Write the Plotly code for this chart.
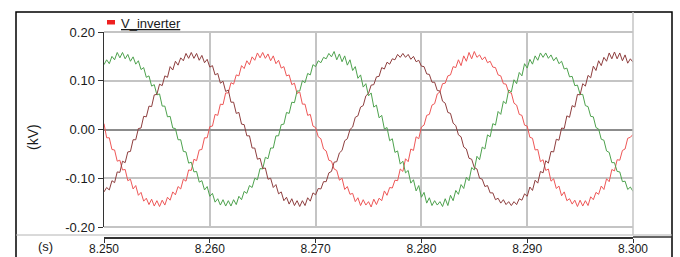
import plotly.graph_objects as go

# ---- data ----
t_start = 8.250          # s, first sample
t_step = 0.00025         # s, sample spacing

# phase voltages in volts (plotted in kV)
red_volts = [
    12, -17, -17, -41, -42, -65, -63, -83, -82, -105,
    -102, -122, -115, -135, -129, -147, -141, -154, -143, -157,
    -146, -158, -145, -155, -139, -145, -128, -134, -117, -122,
    -102, -106, -83, -84, -61, -64, -42, -41, -17, -17,
    6, 7, 31, 29, 52, 51, 75, 75, 96, 93,
    112, 110, 131, 125, 141, 133, 149, 142, 157, 147,
    158, 146, 155, 141, 151, 135, 142, 126, 129, 110,
    112, 92, 95, 74, 77, 52, 52, 29, 31, 7,
    4, -15, -19, -40, -44, -63, -65, -81, -84, -104,
    -100, -123, -117, -133, -131, -148, -140, -156, -144, -155,
    -148, -159, -143, -154, -141, -146, -126, -135, -119, -120,
    -104, -105, -81, -86, -60, -66, -40, -43, -15, -19,
    5, 9, 29, 31, 50, 53, 73, 77, 94, 95,
    110, 112, 129, 127, 143, 131, 151, 140, 158, 145,
    160, 148, 153, 143, 149, 137, 140, 128, 127, 112,
    110, 94, 93, 76, 75, 54, 50, 31, 29, 9,
    7, -16, -18, -42, -41, -66, -62, -84, -81, -106,
    -101, -121, -116, -136, -128, -146, -142, -153, -145, -158,
    -145, -157, -146, -156, -138, -144, -129, -133, -116, -123,
    -101, -107, -82, -85, -62, -63, -43, -40, -18, -16,
    -10,
]

green_volts = [
    133, 143, 135, 150, 143, 158, 147, 158, 145, 154,
    140, 149, 134, 141, 123, 127, 107, 110, 89, 92,
    71, 73, 48, 48, 26, 27, 3, 2, -21, -21,
    -45, -46, -69, -67, -87, -86, -108, -105, -124, -117,
    -137, -131, -149, -142, -155, -144, -157, -146, -157, -144,
    -154, -137, -144, -127, -131, -115, -119, -100, -103, -80,
    -81, -57, -60, -38, -38, -13, -13, 10, 11, 35,
    33, 56, 55, 79, 79, 100, 96, 115, 112, 133,
    129, 141, 137, 148, 145, 156, 149, 160, 143, 155,
    139, 151, 132, 143, 121, 129, 105, 112, 87, 94,
    69, 75, 46, 50, 24, 29, 1, 4, -23, -19,
    -47, -44, -71, -65, -89, -84, -110, -103, -126, -115,
    -139, -129, -151, -140, -156, -146, -155, -148, -158, -142,
    -156, -135, -146, -125, -133, -113, -121, -98, -105, -78,
    -83, -55, -62, -36, -40, -11, -15, 12, 9, 37,
    31, 58, 53, 81, 77, 102, 94, 117, 110, 135,
    126, 144, 134, 151, 142, 157, 148, 157, 146, 153,
    141, 148, 135, 140, 124, 126, 108, 109, 90, 91,
    72, 72, 49, 47, 27, 26, 4, 1, -20, -22,
    -44, -47, -68, -68, -86, -87, -107, -106, -123, -118,
    -127,
]

brown_volts = [
    -128, -119, -124, -105, -109, -87, -88, -65, -68, -46,
    -45, -21, -21, 2, 3, 27, 26, 48, 47, 71,
    72, 93, 90, 110, 107, 129, 122, 140, 132, 147,
    141, 156, 146, 158, 146, 156, 142, 152, 137, 144,
    128, 131, 112, 115, 95, 99, 78, 81, 56, 56,
    33, 35, 11, 10, -13, -13, -38, -38, -61, -59,
    -80, -79, -102, -100, -119, -113, -132, -128, -146, -139,
    -153, -142, -156, -146, -158, -146, -156, -140, -147, -130,
    -134, -121, -122, -107, -107, -89, -86, -67, -66, -48,
    -43, -23, -19, 0, 5, 25, 28, 46, 49, 69,
    74, 91, 92, 108, 109, 127, 124, 138, 134, 145,
    143, 154, 148, 156, 148, 154, 144, 150, 139, 142,
    130, 129, 114, 113, 97, 97, 80, 79, 58, 54,
    35, 33, 13, 8, -11, -15, -36, -40, -59, -61,
    -78, -81, -100, -102, -117, -115, -130, -130, -144, -141,
    -151, -144, -154, -148, -156, -148, -154, -142, -145, -132,
    -137, -118, -125, -104, -110, -86, -89, -64, -69, -45,
    -46, -20, -22, 3, 2, 28, 25, 49, 46, 72,
    71, 94, 89, 111, 106, 130, 121, 141, 131, 148,
    140, 157, 145, 159, 145, 157, 141, 153, 136, 145,
    138,
]

x_tick_vals = [8.250, 8.260, 8.270, 8.280, 8.290, 8.300]
x_tick_text = ["8.250", "8.260", "8.270", "8.280", "8.290", "8.300"]
y_tick_vals = [0.20, 0.10, 0.00, -0.10, -0.20]
y_tick_text = ["0.20", "0.10", "0.00", "-0.10", "-0.20"]
legend_label = "V_inverter"

# ---- figure ----
W, H = 680, 257
L, R, T, B = 104, 47, 32, 20
pw, ph = W - L - R, H - T - B

def px(xp):
    return (xp - L) / pw

def py(yp):
    return (H - B - yp) / ph

FONT = "Liberation Sans, Arial, sans-serif"
TXT = "#1a1a1a"
GRID = "#c4c4c4"

fig = go.Figure()
fig.add_trace(go.Scatter(x0=t_start, dx=t_step, y=[v / 1000 for v in red_volts],
                         mode="lines", line=dict(color="#ee5757", width=1),
                         xaxis="x", yaxis="y", showlegend=False, hoverinfo="skip"))
fig.add_trace(go.Scatter(x0=t_start, dx=t_step, y=[v / 1000 for v in green_volts],
                         mode="lines", line=dict(color="#4ea24e", width=1),
                         xaxis="x", yaxis="y", showlegend=False, hoverinfo="skip"))
fig.add_trace(go.Scatter(x0=t_start, dx=t_step, y=[v / 1000 for v in brown_volts],
                         mode="lines", line=dict(color="#8e3e3e", width=1),
                         xaxis="x2", yaxis="y", showlegend=False, hoverinfo="skip"))

fig.update_layout(
    width=W, height=H, autosize=False,
    margin=dict(l=L, r=R, t=T, b=B, pad=0, autoexpand=False),
    paper_bgcolor="white", plot_bgcolor="white",
    showlegend=False,
    font=dict(family=FONT, size=12, color=TXT),
    xaxis=dict(range=[8.250, 8.300], tickvals=x_tick_vals, showticklabels=False,
               ticks="", showgrid=True, gridcolor=GRID, gridwidth=2,
               zeroline=False, showline=False, automargin=False),
    xaxis2=dict(range=[8.250, 8.300], overlaying="x", anchor="free", position=0,
                tickvals=x_tick_vals, ticktext=x_tick_text, ticks="outside",
                ticklen=4, tickcolor="#333333", tickwidth=1,
                showline=True, linecolor="#333333", linewidth=1.5,
                showgrid=False, zeroline=False, ticklabelstandoff=-4,
                automargin=False,
                tickfont=dict(family=FONT, size=12, color=TXT)),
    yaxis=dict(domain=[py(227), 1], range=[-0.20, 0.20],
               tickvals=y_tick_vals, ticktext=y_tick_text,
               ticks="outside", ticklen=5, tickcolor="#333333",
               showline=True, linecolor="#333333", linewidth=1.5,
               showgrid=True, gridcolor=GRID, gridwidth=2,
               zeroline=True, zerolinecolor="#8c8c8c", zerolinewidth=2,
               automargin=False,
               tickfont=dict(family=FONT, size=13, color=TXT)),
)

shapes = [
    # outer frame
    dict(type="rect", xref="paper", yref="paper", x0=px(16), x1=px(672),
         y0=py(262), y1=py(12), line=dict(color="black", width=1.5), layer="above"),
    # separator above time strip
    dict(type="line", xref="paper", yref="paper", x0=px(16), x1=px(672),
         y0=py(235), y1=py(235), line=dict(color="#b4b4b4", width=1)),
    # right border of plot area (extends to the frame)
    dict(type="line", xref="paper", yref="paper", x0=1, x1=1,
         y0=py(235), y1=py(12), line=dict(color=GRID, width=1.5)),
    # top and bottom borders of the plot area
    dict(type="line", xref="paper", yref="paper", x0=0, x1=1,
         y0=1, y1=1, line=dict(color=GRID, width=2)),
    dict(type="line", xref="paper", yref="paper", x0=0, x1=1,
         y0=py(227), y1=py(227), line=dict(color=GRID, width=2)),
    # time axis line extension to the frame
    dict(type="line", xref="paper", yref="paper", x0=1, x1=px(672),
         y0=0, y1=0, line=dict(color="#333333", width=1.5)),
    # legend swatch
    dict(type="rect", xref="paper", yref="paper", x0=px(107), x1=px(115),
         y0=py(24.5), y1=py(20), fillcolor="#ee2020", line=dict(width=0)),
]
fig.update_layout(shapes=shapes)

fig.add_annotation(xref="paper", yref="paper", x=px(119), y=py(23.5),
                   text="<u>" + legend_label + "</u>", showarrow=False,
                   xanchor="left", yanchor="middle",
                   font=dict(family=FONT, size=13, color=TXT))
fig.add_annotation(xref="paper", yref="paper", x=px(33), y=py(137),
                   text="(kV)", showarrow=False, textangle=-90,
                   xanchor="center", yanchor="middle",
                   font=dict(family=FONT, size=14, color=TXT))
fig.add_annotation(xref="paper", yref="paper", x=px(45), y=py(246),
                   text="(s)", showarrow=False,
                   xanchor="center", yanchor="middle",
                   font=dict(family=FONT, size=13, color=TXT))

fig.write_html(
    "out.html",
    config={"displayModeBar": False, "staticPlot": True},
    post_script=(
        "document.documentElement.style.margin='0';"
        "document.body.style.margin='0';"
        "document.body.style.overflow='hidden';"
        "document.documentElement.style.overflow='hidden';"
    ),
)
